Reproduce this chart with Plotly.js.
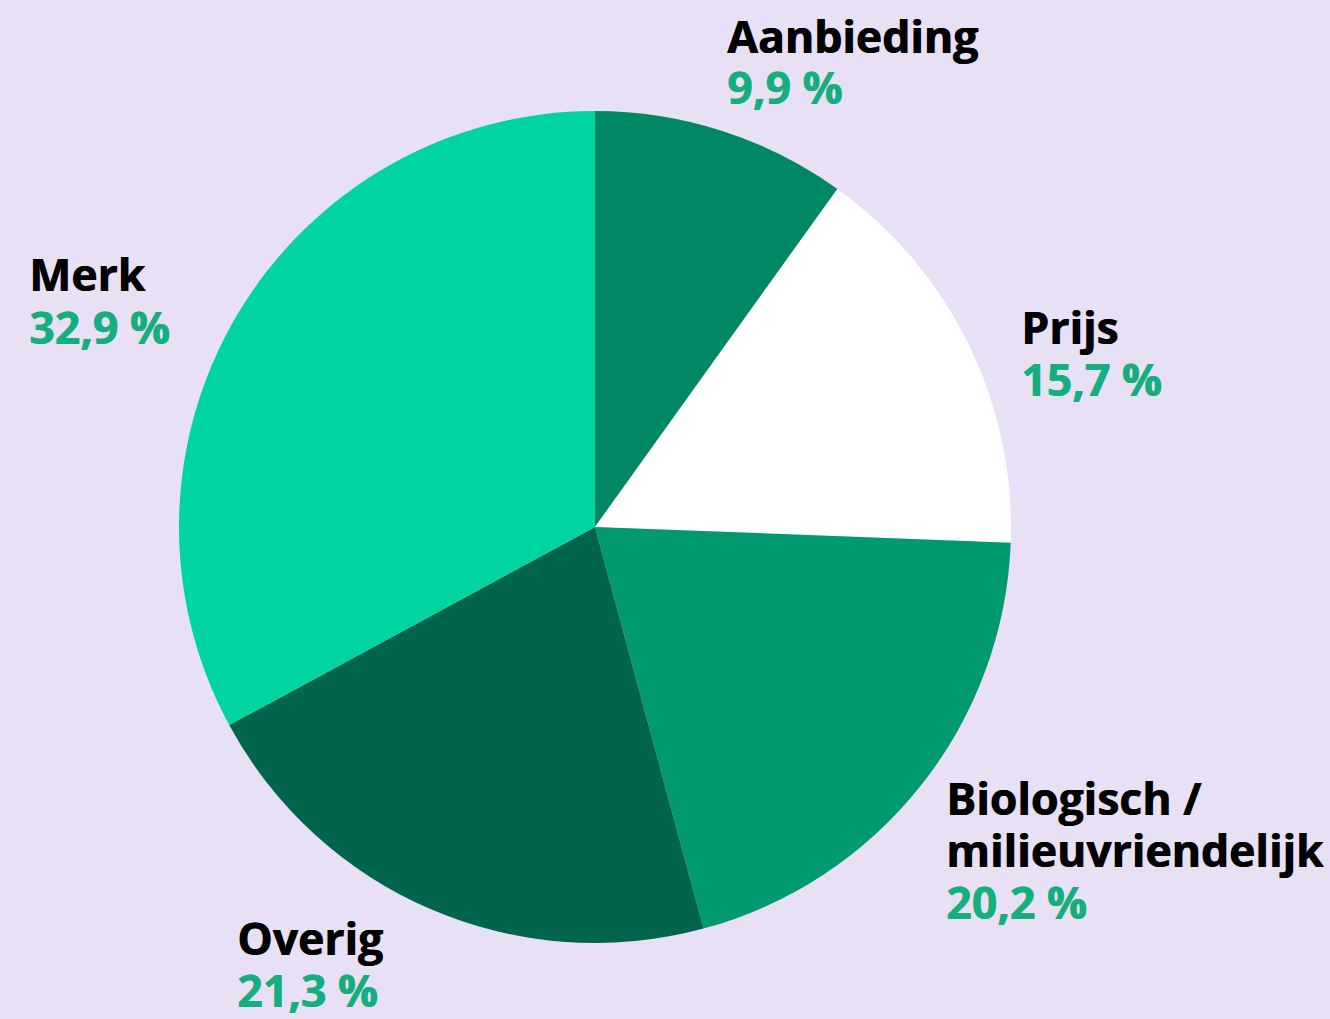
<!DOCTYPE html>
<html>
<head>
<meta charset="utf-8">
<script src="https://cdn.plot.ly/plotly-3.0.1.min.js"></script>
<style>html,body{margin:0;padding:0;background:#E8E0F5;}#chart{width:1330px;height:1019px;}</style>
</head>
<body>
<div id="chart"></div>
<script>
// Data
const categories = ["Aanbieding", "Prijs", "Biologisch / milieuvriendelijk", "Overig", "Merk"];
const labelLines = [["Aanbieding"], ["Prijs"], ["Biologisch /", "milieuvriendelijk"], ["Overig"], ["Merk"]];
const shares = [9.9, 15.7, 20.2, 21.3, 32.9];

// Styles
const sliceColors = ["#008866", "#FFFFFF", "#009970", "#00654C", "#00D5A1"];
const W = 1330, H = 1019;
// label anchor: left x, first baseline (pixels)
const labelAnchors = [[725, 50], [1019, 342], [944, 812], [235, 952], [27, 289]];
const linePitch = 52;
const fontSize = 44.5;

const annotations = [];
categories.forEach((c, i) => {
  const [lx, by] = labelAnchors[i];
  const lines = labelLines[i].concat([shares[i].toFixed(1).replace('.', ',') + ' %']);
  lines.forEach((t, j) => {
    const isPct = j === lines.length - 1;
    const base = by + j * linePitch;
    const col = isPct ? '#16AE7F' : '#000000';
    annotations.push({
      text: t, xref: 'paper', yref: 'paper',
      x: lx / W, y: 1 - (base - 15) / H,
      xanchor: 'left', yanchor: 'middle', showarrow: false,
      font: {family: 'Open Sans', size: fontSize, weight: 700, color: col,
             shadow: '0.8px 0 0 ' + col}
    });
  });
});

const trace = {
  type: 'pie', labels: categories, values: shares,
  sort: false, direction: 'clockwise', rotation: 0,
  marker: {colors: sliceColors, line: {width: 0}},
  textinfo: 'none', hoverinfo: 'label+percent',
  domain: {x: [179 / W, 1011 / W], y: [1 - 943 / H, 1 - 111 / H]}
};

Plotly.newPlot('chart', [trace], {
  width: W, height: H, margin: {l: 0, r: 0, t: 0, b: 0},
  paper_bgcolor: '#E8E0F5', plot_bgcolor: '#E8E0F5',
  showlegend: false, annotations: annotations
}, {displayModeBar: false});
</script>
</body>
</html>
